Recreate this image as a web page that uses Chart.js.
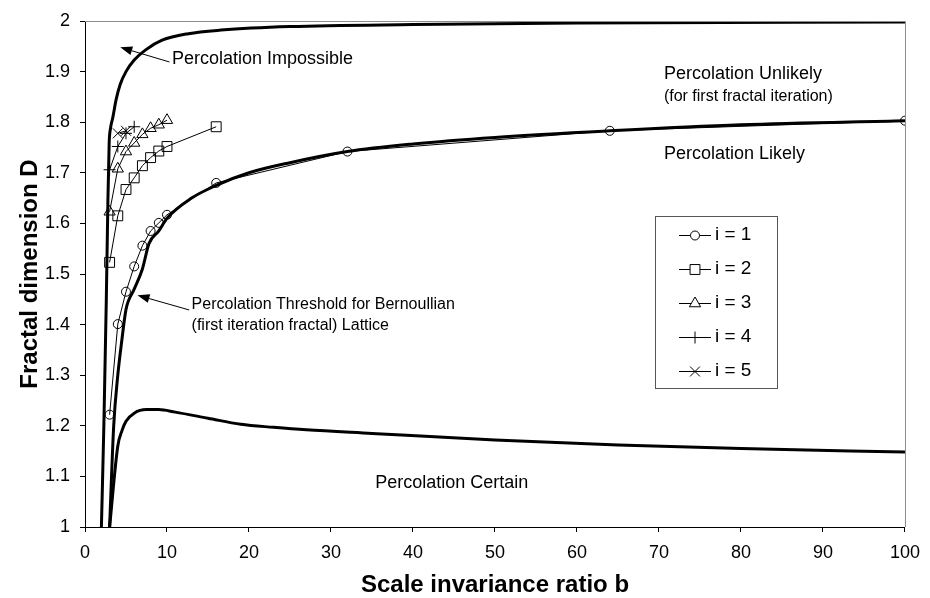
<!DOCTYPE html>
<html lang="en">
<head>
    <meta charset="UTF-8">
    <title>Fractal dimension vs scale invariance ratio</title>
    <script src="https://cdn.jsdelivr.net/npm/chart.js"></script>
    <style>
        body { margin: 0; background: #fff; }
        #wrap { width: 930px; height: 598px; }
    </style>
</head>
<body>
<div id="wrap"><canvas id="chart" width="930" height="598"></canvas></div>
<script>
    // tick labels
    var xTicks = [0, 10, 20, 30, 40, 50, 60, 70, 80, 90, 100];
    var yTicks = [1, 1.1, 1.2, 1.3, 1.4, 1.5, 1.6, 1.7, 1.8, 1.9, 2];

    // measured series, one per fractal iteration
    var b1 = [3, 4, 5, 6, 7, 8, 9, 10, 16, 32, 64, 100];
    var d1 = [1.222, 1.401, 1.465, 1.515, 1.556, 1.585, 1.601, 1.617, 1.680, 1.742, 1.783, 1.803];
    var b2 = [3, 4, 5, 6, 7, 8, 9, 10, 16];
    var d2 = [1.523, 1.615, 1.667, 1.690, 1.714, 1.730, 1.743, 1.752, 1.791];
    var b3 = [3, 4, 5, 6, 7, 8, 9, 10];
    var d3 = [1.623, 1.708, 1.742, 1.759, 1.776, 1.788, 1.795, 1.804];
    var b4 = [3, 4, 5, 6];
    var d4 = [1.706, 1.752, 1.778, 1.791];
    var b5 = [4, 5];
    var d5 = [1.778, 1.783];

    // boundary curves (thick lines)
    var bUpper = [2.0, 2.3, 2.6, 2.8, 2.95, 3.1, 3.4, 3.8, 4.3, 5, 6, 7.4, 9.4, 12.6, 16.6, 25, 40, 60, 100];
    var dUpper = [1.0, 1.2, 1.45, 1.65, 1.76, 1.787, 1.81, 1.845, 1.875, 1.9, 1.923, 1.943, 1.962, 1.975, 1.982, 1.989, 1.993, 1.996, 1.998];
    var bThresh = [3, 3.5, 4, 4.5, 5, 6, 7, 7.8, 9, 10, 13, 16, 20, 25, 32, 40, 50, 64, 80, 100];
    var dThresh = [1.0, 1.2, 1.3, 1.37, 1.43, 1.47, 1.51, 1.56, 1.585, 1.61, 1.65, 1.675, 1.70, 1.72, 1.742, 1.757, 1.770, 1.783, 1.795, 1.803];
    var bLower = [3, 4, 4.5, 5, 6, 7.5, 9, 11, 15, 19, 23, 27, 35, 50, 65, 80, 100];
    var dLower = [1.0, 1.16, 1.19, 1.209, 1.225, 1.232, 1.232, 1.227, 1.215, 1.203, 1.197, 1.192, 1.185, 1.172, 1.162, 1.155, 1.148];

    // text notes, in data units
    var noteText = ['Percolation Impossible', 'Percolation Unlikely', '(for first fractal iteration)',
        'Percolation Likely', 'Percolation Certain', 'Percolation Threshold for Bernoullian',
        '(first iteration fractal) Lattice'];
    var noteB = [10.6, 70.6, 70.6, 70.6, 35.4, 13.0, 13.0];
    var noteD = [1.925, 1.895, 1.851, 1.738, 1.087, 1.439, 1.399];
    var noteSize = [18, 18, 16, 18, 18, 16, 16];

    // arrows: tail -> head, in data units
    var arrowFromB = [10.3, 12.7];
    var arrowFromD = [1.919, 1.429];
    var arrowToB = [4.3, 6.4];
    var arrowToD = [1.948, 1.458];

    function pts(xs, ys) {
        return xs.map(function (x, i) { return { x: x, y: ys[i] }; });
    }

    function curve(xs, ys) {
        return {
            data: pts(xs, ys), showLine: true, borderColor: '#000', borderWidth: 3,
            pointRadius: 0, cubicInterpolationMode: 'monotone', isCurve: true
        };
    }

    function series(label, xs, ys, style, r) {
        return {
            label: label, data: pts(xs, ys), showLine: true, borderColor: '#000', borderWidth: 1,
            pointStyle: style, pointRadius: r, pointBorderWidth: 1, pointBorderColor: '#000',
            pointBackgroundColor: 'rgba(0,0,0,0)', backgroundColor: 'rgba(0,0,0,0)'
        };
    }

    var FONT = "'Liberation Sans', Arial, sans-serif";

    var frame = {
        id: 'frame',
        afterDraw: function (chart) {
            var a = chart.chartArea, ctx = chart.ctx;
            ctx.save();
            ctx.strokeStyle = '#8c8c8c';
            ctx.lineWidth = 1;
            ctx.beginPath();
            ctx.moveTo(a.left, a.top + 0.5);
            ctx.lineTo(a.right + 0.5, a.top + 0.5);
            ctx.lineTo(a.right + 0.5, a.bottom);
            ctx.stroke();
            ctx.restore();
        }
    };

    var notes = {
        id: 'notes',
        afterDatasetsDraw: function (chart) {
            var ctx = chart.ctx, xs = chart.scales.x, ys = chart.scales.y;
            ctx.save();
            ctx.fillStyle = '#000';
            ctx.textAlign = 'left';
            ctx.textBaseline = 'middle';
            noteText.forEach(function (t, i) {
                ctx.font = noteSize[i] + 'px ' + FONT;
                ctx.fillText(t, xs.getPixelForValue(noteB[i]), ys.getPixelForValue(noteD[i]));
            });
            ctx.strokeStyle = '#000';
            ctx.lineWidth = 1;
            arrowFromB.forEach(function (fb, i) {
                var x0 = xs.getPixelForValue(fb), y0 = ys.getPixelForValue(arrowFromD[i]);
                var x1 = xs.getPixelForValue(arrowToB[i]), y1 = ys.getPixelForValue(arrowToD[i]);
                var ang = Math.atan2(y1 - y0, x1 - x0), len = 12, half = 4.5;
                var bx = x1 - Math.cos(ang) * len, by = y1 - Math.sin(ang) * len;
                ctx.beginPath();
                ctx.moveTo(x0, y0);
                ctx.lineTo(bx, by);
                ctx.stroke();
                ctx.beginPath();
                ctx.moveTo(x1, y1);
                ctx.lineTo(bx - Math.sin(ang) * half, by + Math.cos(ang) * half);
                ctx.lineTo(bx + Math.sin(ang) * half, by - Math.cos(ang) * half);
                ctx.closePath();
                ctx.fill();
            });
            ctx.restore();
        }
    };

    var boxLegend = {
        id: 'boxLegend',
        afterDraw: function (chart) {
            var ctx = chart.ctx;
            var items = chart.data.datasets.filter(function (d) { return !d.isCurve; });
            var left = 655, top = 216, w = 122, h = 172, gap = 34, first = 235;
            ctx.save();
            ctx.fillStyle = '#fff';
            ctx.fillRect(left, top, w, h);
            ctx.strokeStyle = '#555';
            ctx.lineWidth = 1;
            ctx.strokeRect(left + 0.5, top + 0.5, w, h);
            ctx.font = '19px ' + FONT;
            ctx.textBaseline = 'middle';
            items.forEach(function (d, i) {
                var y = first + i * gap;
                ctx.strokeStyle = '#000';
                ctx.beginPath();
                ctx.moveTo(679, y + 0.5);
                ctx.lineTo(711, y + 0.5);
                ctx.stroke();
                // hollow marker: white fill, black outline
                ctx.fillStyle = '#fff';
                Chart.helpers.drawPoint(ctx, {
                    pointStyle: d.pointStyle, radius: d.pointRadius, borderWidth: 1, rotation: 0
                }, 695, y + 0.5);
                ctx.fillStyle = '#000';
                ctx.fillText(d.label, 715, y);
            });
            ctx.restore();
        }
    };

    new Chart(document.getElementById('chart'), {
        type: 'scatter',
        data: {
            datasets: [
                curve(bUpper, dUpper),
                curve(bThresh, dThresh),
                curve(bLower, dLower),
                series('i = 1', b1, d1, 'circle', 4.5),
                series('i = 2', b2, d2, 'rect', 7),
                series('i = 3', b3, d3, 'triangle', 6.5),
                series('i = 4', b4, d4, 'cross', 6),
                series('i = 5', b5, d5, 'crossRot', 7)
            ]
        },
        options: {
            responsive: false,
            animation: false,
            devicePixelRatio: 1,
            layout: { padding: { left: 0, right: 17, top: 21, bottom: 0 } },
            plugins: { legend: { display: false }, tooltip: { enabled: false } },
            scales: {
                x: {
                    type: 'linear', min: 0, max: 100,
                    afterBuildTicks: function (s) { s.ticks = xTicks.map(function (v) { return { value: v }; }); },
                    afterFit: function (s) { s.height = 71; },
                    grid: { drawOnChartArea: false, drawTicks: true, tickLength: 5, color: '#000' },
                    border: { color: '#000', width: 1 },
                    ticks: { color: '#000', padding: 10, maxRotation: 0, font: { family: FONT, size: 18 } },
                    title: {
                        display: true, text: 'Scale invariance ratio b', color: '#000',
                        font: { family: FONT, size: 24, weight: 'bold', lineHeight: 1 },
                        padding: { top: 0, bottom: 1 }
                    }
                },
                y: {
                    type: 'linear', min: 1, max: 2,
                    afterBuildTicks: function (s) { s.ticks = yTicks.map(function (v) { return { value: v }; }); },
                    afterFit: function (s) { s.width = 85; },
                    grid: { drawOnChartArea: false, drawTicks: true, tickLength: 5, color: '#000' },
                    border: { color: '#000', width: 1 },
                    ticks: {
                        color: '#000', padding: 10, font: { family: FONT, size: 18 },
                        callback: function (v) { return String(Math.round(v * 10) / 10); }
                    },
                    title: {
                        display: true, text: 'Fractal dimension D', color: '#000',
                        font: { family: FONT, size: 24, weight: 'bold', lineHeight: 1 },
                        padding: { top: 18, bottom: 0 }
                    }
                }
            }
        },
        plugins: [frame, notes, boxLegend]
    });
</script>
</body>
</html>
